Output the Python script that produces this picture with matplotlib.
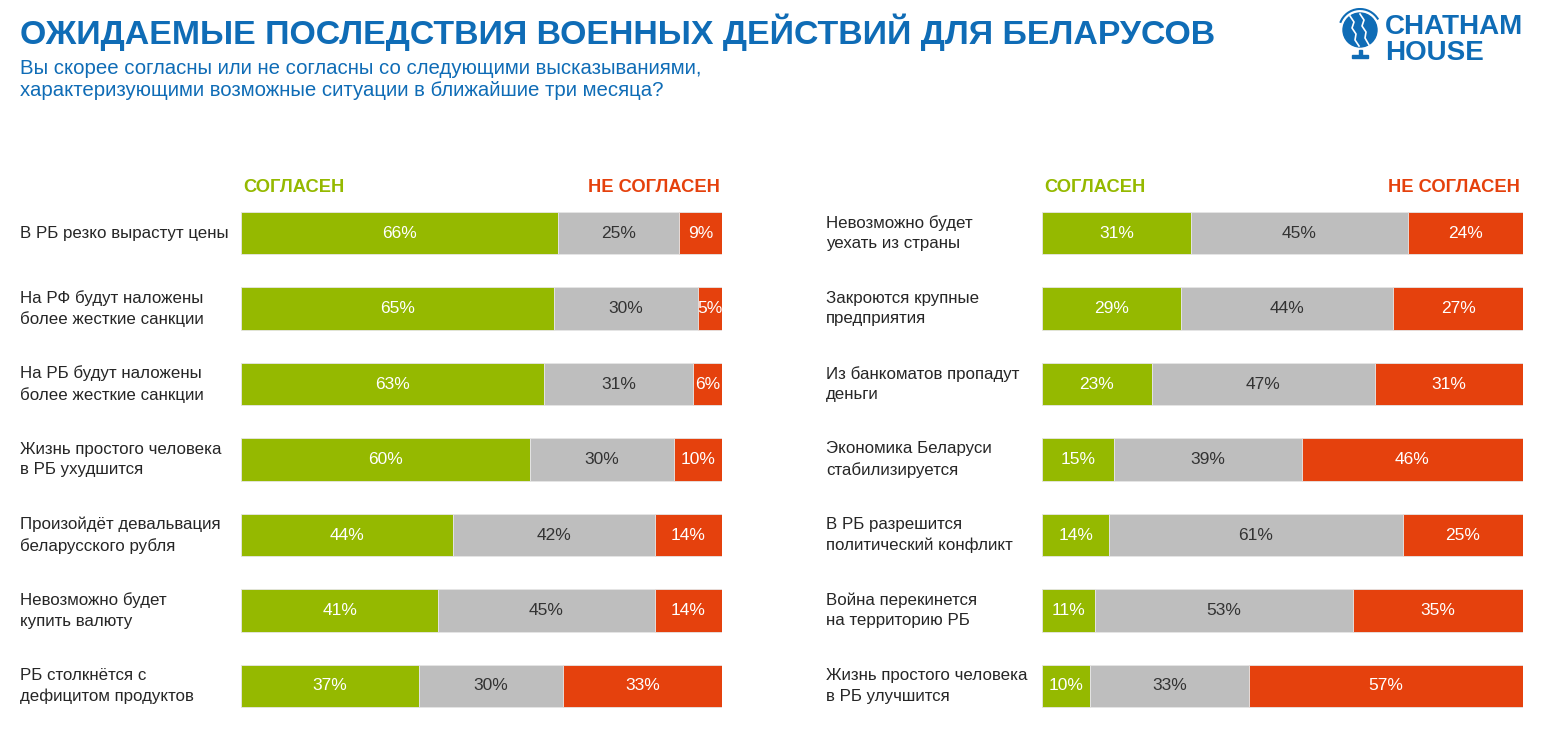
import numpy as np
import matplotlib
matplotlib.use('Agg')
import matplotlib.pyplot as plt
import matplotlib.transforms as mtransforms
from matplotlib.patches import Circle, Rectangle, Arc

plt.rcParams['font.family'] = ['Liberation Sans', 'DejaVu Sans']

# Данные
left_labels = ['В РБ резко вырастут цены',
               'На РФ будут наложены\nболее жесткие санкции',
               'На РБ будут наложены\nболее жесткие санкции',
               'Жизнь простого человека\nв РБ ухудшится',
               'Произойдёт девальвация\nбеларусского рубля',
               'Невозможно будет\nкупить валюту',
               'РБ столкнётся с\nдефицитом продуктов']
left_agree = [66, 65, 63, 60, 44, 41, 37]
left_neutral = [25, 30, 31, 30, 42, 45, 30]
left_disagree = [9, 5, 6, 10, 14, 14, 33]

right_labels = ['Невозможно будет\nуехать из страны',
                'Закроются крупные\nпредприятия',
                'Из банкоматов пропадут\nденьги',
                'Экономика Беларуси\nстабилизируется',
                'В РБ разрешится\nполитический конфликт',
                'Война перекинется\nна территорию РБ',
                'Жизнь простого человека\nв РБ улучшится']
right_agree = [31, 29, 23, 15, 14, 11, 10]
right_neutral = [45, 44, 47, 39, 61, 53, 33]
right_disagree = [24, 27, 31, 46, 25, 35, 57]

GREEN = '#95b900'
GREY = '#bebebe'
RED = '#e5410d'
BLUE = '#0f6cb6'

W, H = 1548, 730
fig = plt.figure(figsize=(W / 100, H / 100), dpi=100)


def px_axes(x0, y0, x1, y1):
    return fig.add_axes([x0 / W, 1 - y1 / H, (x1 - x0) / W, (y1 - y0) / H])


def panel(ax, labels, agree, neutral, disagree, label_x, hdr_x0, hdr_x1):
    a = np.array(agree, float)
    n = np.array(neutral, float)
    d = np.array(disagree, float)
    tot = a + n + d
    y = np.arange(len(labels))
    ax.barh(y, a / tot, height=0.56, color=GREEN, edgecolor='#e6e6e6', linewidth=0.6)
    ax.barh(y, n / tot, left=a / tot, height=0.56, color=GREY, edgecolor='#e6e6e6', linewidth=0.6)
    ax.barh(y, d / tot, left=(a + n) / tot, height=0.56, color=RED, edgecolor='#e6e6e6', linewidth=0.6)
    for i in range(len(labels)):
        ax.text(a[i] / tot[i] / 2, i, f'{agree[i]}%', ha='center', va='center',
                color='white', fontsize=12.5)
        ax.text((a[i] + n[i] / 2) / tot[i], i, f'{neutral[i]}%', ha='center', va='center',
                color='#333333', fontsize=12.5)
        ax.text((a[i] + n[i] + d[i] / 2) / tot[i], i, f'{disagree[i]}%', ha='center',
                va='center', color='white', fontsize=12.5)
    ax.set_xlim(0, 1)
    ax.set_ylim(len(labels) - 0.5, -0.5)
    ax.axis('off')
    tr = mtransforms.blended_transform_factory(fig.transFigure, ax.transData)
    for i, lab in enumerate(labels):
        ax.text(label_x / W, i, lab, transform=tr, ha='left', va='center',
                fontsize=12.2, color='#262626', linespacing=1.45)
    fig.text(hdr_x0 / W, 1 - 187 / H, 'СОГЛАСЕН', color=GREEN, fontsize=13.2,
             fontweight='bold', ha='left', va='center')
    fig.text(hdr_x1 / W, 1 - 187 / H, 'НЕ СОГЛАСЕН', color=RED, fontsize=13.2,
             fontweight='bold', ha='right', va='center')


ax1 = px_axes(241, 195.25, 722, 723.75)
panel(ax1, left_labels, left_agree, left_neutral, left_disagree, 20, 243, 720)
ax2 = px_axes(1042, 195.25, 1523, 723.75)
panel(ax2, right_labels, right_agree, right_neutral, right_disagree, 826, 1044, 1520)

# Заголовок
fig.text(20 / W, 1 - 32 / H, 'ОЖИДАЕМЫЕ ПОСЛЕДСТВИЯ ВОЕННЫХ ДЕЙСТВИЙ ДЛЯ БЕЛАРУСОВ',
         color=BLUE, fontsize=24.4, fontweight='bold', ha='left', va='center')
fig.text(20 / W, 1 - 68 / H, 'Вы скорее согласны или не согласны со следующими высказываниями,',
         color=BLUE, fontsize=14.7, ha='left', va='center')
fig.text(20 / W, 1 - 91 / H, 'характеризующими возможные ситуации в ближайшие три месяца?',
         color=BLUE, fontsize=14.7, ha='left', va='center')

# Логотип
lax = px_axes(1338, 8, 1382, 66)
lax.set_xlim(0, 44)
lax.set_ylim(58, 0)
lax.set_aspect('equal')
lax.axis('off')
lax.add_patch(Circle((22, 22), 17, color=BLUE))
lax.add_patch(Arc((22, 22), 42, 42, theta1=200, theta2=330, color=BLUE, lw=1.5))
lax.add_patch(Rectangle((20.5, 42), 3, 6, color=BLUE))
lax.add_patch(Rectangle((14, 47), 16, 3, color=BLUE))
lax.plot([12, 16, 14, 18, 17, 21], [8, 14, 20, 26, 32, 38], color='white', lw=1.2)
lax.plot([22, 26, 24, 28, 27, 31], [6, 12, 18, 24, 30, 37], color='white', lw=1.2)
fig.text(1385 / W, 1 - 27 / H, 'CHATHAM', color=BLUE, fontsize=20, fontweight='bold',
         ha='left', va='center')
fig.text(1385 / W, 1 - 53 / H, 'HOUSE', color=BLUE, fontsize=20, fontweight='bold',
         ha='left', va='center')

fig.savefig('out.png', dpi=100)
